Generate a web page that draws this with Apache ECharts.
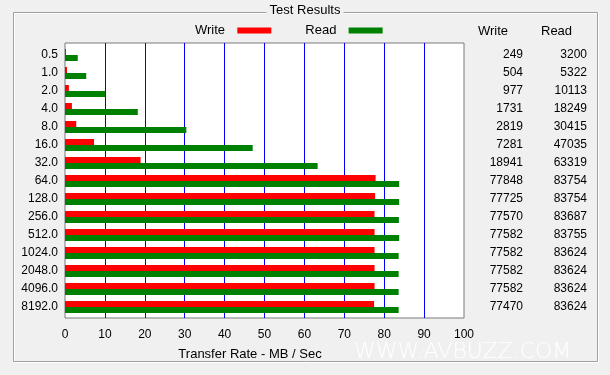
<!DOCTYPE html>
<html>
<head>
<meta charset="utf-8">
<script src="https://cdn.jsdelivr.net/npm/echarts@6/dist/echarts.min.js"></script>
<style>
  html, body { margin: 0; padding: 0; background: #f0f0f0; }
  #chart { width: 610px; height: 375px; }
</style>
</head>
<body>
<div id="chart"></div>
<script>
// block sizes (KB) and measured rates (KB/sec)
const blockSizes = ['0.5', '1.0', '2.0', '4.0', '8.0', '16.0', '32.0', '64.0', '128.0', '256.0', '512.0', '1024.0', '2048.0', '4096.0', '8192.0']
const writeRates = [249, 504, 977, 1731, 2819, 7281, 18941, 77848, 77725, 77570, 77582, 77582, 77582, 77582, 77470]
const readRates = [3200, 5322, 10113, 18249, 30415, 47035, 63319, 83754, 83754, 83687, 83755, 83624, 83624, 83624, 83624]
const rateTicks = [0, 10, 20, 30, 40, 50, 60, 70, 80, 90, 100]

const font = 'Liberation Sans, Arial, sans-serif'
const toMB = v => v / 1000

var myChart = echarts.init(document.getElementById('chart'))

const option = {
  backgroundColor: '#f0f0f0',
  animation: false,
  textStyle: { fontFamily: font, color: '#000' },
  title: {
    text: 'Test Results',
    left: 'center',
    top: 4,
    padding: [0, 3],
    backgroundColor: '#f0f0f0',
    textStyle: { fontSize: 13, fontWeight: 'normal', color: '#000', fontFamily: font }
  },
  legend: {
    data: ['Write', 'Read'],
    left: 195,
    top: 24,
    align: 'right',
    icon: 'rect',
    itemWidth: 34,
    itemHeight: 6,
    itemGap: 34,
    padding: 0,
    formatter: name => name + '  ',
    textStyle: { fontSize: 13, color: '#000', fontFamily: font }
  },
  grid: [
    // frame + gridlines
    { left: 65, top: 43, width: 399, height: 275, show: true, backgroundColor: '#fff', borderColor: '#7a7a7a', borderWidth: 1 },
    // bars
    { left: 65, top: 46, width: 399, height: 270 }
  ],
  xAxis: [
    {
      gridIndex: 0,
      type: 'value',
      min: rateTicks[0],
      max: rateTicks[rateTicks.length - 1],
      interval: 10,
      axisLine: { show: false },
      axisTick: { show: false },
      axisLabel: { fontSize: 12, margin: 11, color: '#000', fontFamily: font },
      splitLine: { show: true, showMinLine: false, showMaxLine: false, lineStyle: { color: '#0000ff', width: 1 } },
      name: 'Transfer Rate - MB / Sec',
      nameLocation: 'middle',
      nameGap: 30,
      nameTextStyle: { fontSize: 13, color: '#000', padding: [0, 29, 0, 0], fontFamily: font }
    },
    {
      gridIndex: 1,
      type: 'value',
      min: rateTicks[0],
      max: rateTicks[rateTicks.length - 1],
      show: false
    }
  ],
  yAxis: [
    { gridIndex: 0, type: 'category', data: blockSizes, show: false },
    {
      gridIndex: 1,
      type: 'category',
      data: blockSizes,
      inverse: true,
      axisLine: { show: false },
      axisTick: { show: false },
      axisLabel: { fontSize: 12, margin: 7, color: '#000', fontFamily: font }
    },
    {
      gridIndex: 1,
      type: 'category',
      data: writeRates.map(String),
      inverse: true,
      position: 'right',
      axisLine: { show: false },
      axisTick: { show: false },
      axisLabel: { fontSize: 12, margin: 59, align: 'right', color: '#000', fontFamily: font }
    },
    {
      gridIndex: 1,
      type: 'category',
      data: readRates.map(String),
      inverse: true,
      position: 'right',
      axisLine: { show: false },
      axisTick: { show: false },
      axisLabel: { fontSize: 12, margin: 123, align: 'right', color: '#000', fontFamily: font }
    }
  ],
  series: [
    {
      name: 'Write',
      type: 'bar',
      xAxisIndex: 1,
      yAxisIndex: 1,
      data: writeRates.map(toMB),
      barWidth: 6,
      barGap: '0%',
      itemStyle: { color: '#ff0000' }
    },
    {
      name: 'Read',
      type: 'bar',
      xAxisIndex: 1,
      yAxisIndex: 1,
      data: readRates.map(toMB),
      barWidth: 6,
      barGap: '0%',
      itemStyle: { color: '#008000' }
    }
  ],
  graphic: [
    { type: 'rect', z: -10, shape: { x: 14.5, y: 13.5, width: 584, height: 349 }, style: { fill: 'none', stroke: '#ffffff', lineWidth: 1 } },
    { type: 'rect', z: -9, shape: { x: 13.5, y: 12.5, width: 584, height: 349 }, style: { fill: 'none', stroke: '#a0a0a0', lineWidth: 1 } },
    { type: 'text', x: 478, y: 31, style: { text: 'Write', font: '13px ' + font, fill: '#000', verticalAlign: 'middle' } },
    { type: 'text', x: 541, y: 31, style: { text: 'Read', font: '13px ' + font, fill: '#000', verticalAlign: 'middle' } },
    { type: 'text', x: 354, y: 352, style: { text: 'WWW.AVBUZZ.COM', font: '200 22px DejaVu Sans', fill: '#ffffff', verticalAlign: 'middle' } }
  ]
}

myChart.setOption(option)
</script>
</body>
</html>
